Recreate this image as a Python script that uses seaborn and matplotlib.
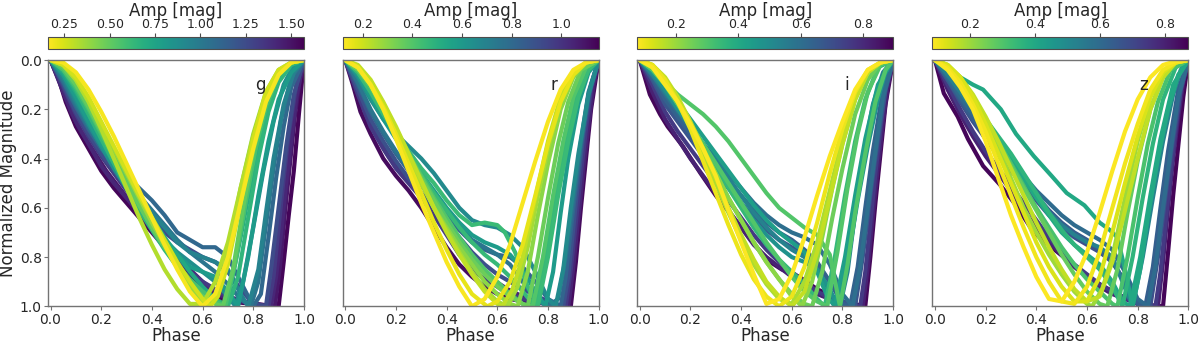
import numpy as np
import pandas as pd
import seaborn as sns
import matplotlib.pyplot as plt
from matplotlib import cm
from matplotlib.colors import Normalize

# ---- data: amplitude, phase points, normalized magnitude ----
G_AMP = [1.55, 1.48, 1.42, 1.33, 1.25, 1.10, 1.02, 0.95, 0.88, 0.80, 0.72, 0.65, 0.57, 0.50, 0.38, 0.32, 0.26, 0.18]
G_PHASE = [
    [0, .03, .06, .1, .15, .2, .25, .3, .35, .4, .45, .5, .55, .6, .65, .7, .8, .9, .92, .94, .96, .98, 1],
    [0, .04, .08, .12, .17, .22, .28, .34, .4, .46, .52, .58, .64, .7, .8, .885, .905, .925, .945, .965, .985, 1],
    [0, .05, .1, .15, .2, .25, .3, .35, .4, .45, .5, .55, .6, .65, .7, .8, .87, .89, .91, .93, .95, .97, 1],
    [0, .05, .1, .15, .2, .25, .3, .35, .4, .45, .5, .55, .6, .65, .7, .8, .86, .88, .9, .92, .94, .97, 1],
    [0, .05, .1, .15, .2, .25, .3, .35, .4, .45, .5, .55, .6, .65, .7, .75, .8, .85, .87, .9, .93, .96, 1],
    [0, .05, .1, .15, .2, .25, .3, .35, .4, .45, .5, .55, .6, .65, .7, .75, .8, .83, .86, .89, .92, .95, 1],
    [0, .05, .1, .15, .2, .25, .3, .35, .4, .45, .5, .55, .6, .65, .7, .75, .79, .82, .85, .88, .91, .95, 1],
    [0, .05, .1, .15, .2, .25, .3, .35, .4, .45, .5, .55, .6, .65, .7, .75, .78, .82, .85, .88, .92, .96, 1],
    [0, .05, .1, .15, .2, .25, .3, .35, .4, .45, .5, .55, .6, .65, .7, .73, .76, .8, .84, .88, .92, .96, 1],
    [0, .05, .1, .15, .2, .25, .3, .35, .4, .45, .5, .55, .6, .65, .7, .74, .78, .82, .86, .9, .95, 1],
    [0, .05, .1, .15, .2, .25, .3, .35, .4, .45, .5, .55, .6, .65, .68, .71, .75, .79, .83, .87, .91, .95, 1],
    [0, .05, .1, .15, .2, .25, .3, .35, .4, .45, .5, .55, .6, .65, .7, .74, .78, .82, .86, .9, .95, 1],
    [0, .05, .1, .15, .2, .25, .3, .35, .4, .45, .5, .55, .6, .65, .69, .73, .77, .81, .85, .9, .95, 1],
    [0, .05, .1, .15, .2, .25, .3, .35, .4, .45, .5, .55, .6, .65, .68, .72, .76, .8, .85, .9, .95, 1],
    [0, .05, .1, .15, .2, .25, .3, .35, .4, .45, .5, .55, .6, .63, .67, .7, .75, .8, .85, .9, .95, 1],
    [0, .05, .1, .15, .2, .25, .3, .35, .4, .45, .5, .55, .6, .65, .7, .75, .8, .85, .9, .95, 1],
    [0, .05, .1, .15, .2, .25, .3, .35, .4, .45, .5, .55, .6, .63, .66, .7, .75, .8, .85, .9, .95, 1],
    [0, .05, .1, .15, .2, .25, .3, .35, .4, .45, .5, .55, .6, .65, .7, .75, .8, .85, .9, .95, 1],
]
G_MAG = [
    [0, .07, .17, .27, .36, .45, .52, .58, .64, .70, .76, .82, .87, .92, .96, .98, .99, 1, .82, .63, .45, .22, 0],
    [0, .10, .21, .29, .37, .45, .53, .61, .69, .77, .84, .90, .94, .97, .99, 1, .84, .62, .42, .22, .07, 0],
    [0, .13, .25, .34, .43, .50, .56, .62, .68, .74, .80, .85, .90, .94, .97, .99, 1, .88, .70, .50, .32, .15, 0],
    [0, .11, .22, .31, .39, .46, .53, .60, .67, .74, .80, .86, .90, .93, .96, .99, 1, .88, .68, .48, .30, .10, 0],
    [0, .10, .21, .30, .38, .45, .52, .58, .64, .70, .74, .77, .80, .82, .86, .93, .99, 1, .85, .60, .35, .14, 0],
    [0, .09, .19, .28, .36, .42, .47, .52, .57, .63, .70, .73, .76, .76, .80, .90, 1, .95, .72, .48, .27, .11, 0],
    [0, .08, .18, .27, .35, .42, .49, .55, .61, .67, .73, .78, .82, .86, .91, .97, 1, .90, .67, .44, .24, .07, 0],
    [0, .07, .17, .26, .35, .43, .50, .56, .62, .68, .74, .78, .80, .82, .85, .95, 1, .85, .62, .40, .18, .05, 0],
    [0, .06, .16, .26, .35, .44, .52, .60, .67, .73, .78, .82, .86, .90, .96, 1, .90, .68, .45, .25, .10, .02, 0],
    [0, .06, .15, .25, .34, .42, .50, .58, .66, .73, .79, .84, .86, .88, .94, 1, .80, .55, .33, .16, .05, 0],
    [0, .05, .13, .22, .31, .40, .48, .56, .64, .72, .79, .86, .92, .97, 1, .92, .72, .50, .30, .15, .05, .01, 0],
    [0, .04, .12, .22, .32, .42, .52, .61, .69, .77, .84, .90, .94, .97, 1, .88, .64, .40, .21, .09, .02, 0],
    [0, .04, .11, .20, .30, .40, .50, .59, .68, .76, .83, .89, .94, .98, 1, .82, .58, .36, .19, .06, .01, 0],
    [0, .03, .10, .19, .29, .39, .49, .59, .68, .76, .84, .91, .96, .99, 1, .85, .60, .37, .17, .06, .01, 0],
    [0, .02, .08, .16, .26, .36, .46, .56, .66, .75, .84, .92, .98, 1, .90, .78, .52, .30, .13, .04, .01, 0],
    [0, .02, .08, .17, .28, .40, .52, .64, .75, .85, .93, .99, .99, .90, .74, .52, .31, .14, .05, .01, 0],
    [0, .02, .07, .15, .25, .35, .45, .55, .64, .73, .82, .90, .97, 1, .96, .83, .58, .32, .13, .04, .01, 0],
    [0, .01, .05, .12, .21, .31, .42, .53, .64, .75, .85, .94, 1, .95, .80, .58, .36, .17, .06, .01, 0],
]

R_AMP = [1.12, 1.05, 0.98, 0.90, 0.82, 0.75, 0.66, 0.59, 0.45, 0.46, 0.40, 0.35, 0.30, 0.26, 0.22, 0.16, 0.13]
R_PHASE = [
    [0, .03, .06, .1, .15, .2, .25, .3, .35, .4, .45, .5, .55, .6, .65, .7, .8, .89, .91, .93, .95, .97, 1],
    [0, .04, .08, .12, .17, .22, .28, .34, .4, .46, .52, .58, .64, .7, .8, .88, .9, .92, .94, .96, .98, 1],
    [0, .05, .1, .15, .2, .25, .3, .35, .4, .45, .5, .55, .6, .65, .7, .8, .87, .89, .91, .93, .95, .97, 1],
    [0, .05, .1, .15, .2, .25, .3, .35, .4, .45, .5, .55, .6, .65, .7, .8, .86, .88, .9, .92, .94, .97, 1],
    [0, .05, .1, .15, .2, .25, .3, .35, .4, .45, .5, .55, .6, .65, .7, .75, .8, .85, .87, .9, .93, .96, 1],
    [0, .05, .1, .15, .2, .25, .3, .35, .4, .45, .5, .55, .6, .65, .7, .75, .8, .84, .87, .9, .93, .96, 1],
    [0, .05, .1, .15, .2, .25, .3, .35, .4, .45, .5, .55, .6, .65, .7, .75, .8, .83, .86, .89, .92, .96, 1],
    [0, .05, .1, .15, .2, .25, .3, .35, .4, .45, .5, .55, .6, .65, .7, .75, .79, .82, .85, .88, .92, .96, 1],
    [0, .05, .1, .15, .2, .25, .3, .35, .4, .45, .5, .55, .6, .63, .67, .72, .76, .8, .84, .88, .92, .96, 1],
    [0, .05, .1, .15, .2, .25, .3, .35, .4, .45, .5, .55, .6, .65, .7, .75, .78, .82, .86, .9, .94, 1],
    [0, .05, .1, .15, .2, .25, .3, .35, .4, .45, .5, .55, .6, .65, .7, .74, .78, .82, .86, .9, .95, 1],
    [0, .05, .1, .15, .2, .25, .3, .35, .4, .45, .5, .55, .6, .65, .7, .72, .76, .8, .84, .88, .93, 1],
    [0, .05, .1, .15, .2, .25, .3, .35, .4, .45, .5, .55, .6, .65, .68, .72, .76, .8, .85, .9, .95, 1],
    [0, .05, .1, .15, .2, .25, .3, .35, .4, .45, .5, .55, .6, .64, .68, .72, .76, .8, .85, .9, .95, 1],
    [0, .05, .1, .15, .2, .25, .3, .35, .4, .45, .5, .55, .6, .62, .66, .7, .75, .8, .85, .9, .95, 1],
    [0, .05, .1, .15, .2, .25, .3, .35, .4, .45, .5, .56, .6, .65, .7, .75, .8, .85, .9, .95, 1],
    [0, .05, .1, .15, .2, .25, .3, .35, .4, .45, .5, .55, .6, .65, .7, .75, .8, .85, .9, .95, 1],
]
R_MAG = [
    [0, .10, .21, .30, .40, .47, .53, .60, .68, .76, .83, .88, .92, .95, .97, .98, .99, 1, .82, .60, .40, .20, 0],
    [0, .11, .22, .30, .39, .46, .53, .61, .69, .77, .84, .89, .93, .96, .99, 1, .84, .64, .44, .26, .10, 0],
    [0, .14, .27, .36, .44, .50, .56, .63, .71, .79, .85, .89, .92, .95, .97, .99, 1, .85, .66, .46, .28, .12, 0],
    [0, .12, .24, .33, .41, .48, .54, .60, .66, .72, .78, .83, .87, .90, .93, .98, 1, .88, .68, .48, .30, .10, 0],
    [0, .10, .21, .30, .38, .45, .51, .57, .63, .69, .74, .77, .79, .80, .84, .90, .97, 1, .88, .60, .35, .14, 0],
    [0, .09, .20, .29, .37, .44, .50, .56, .62, .68, .73, .76, .79, .83, .90, .97, 1, .97, .80, .56, .33, .13, 0],
    [0, .07, .16, .24, .30, .35, .40, .46, .53, .60, .65, .67, .68, .71, .76, .86, .97, 1, .85, .60, .38, .14, 0],
    [0, .06, .15, .24, .32, .39, .46, .53, .60, .66, .71, .74, .76, .79, .85, .94, 1, .86, .62, .40, .18, .05, 0],
    [0, .05, .13, .22, .30, .37, .44, .50, .57, .63, .67, .66, .67, .70, .78, .92, 1, .80, .55, .33, .15, .04, 0],
    [0, .05, .12, .21, .30, .38, .46, .54, .61, .68, .74, .79, .83, .88, .94, 1, .86, .60, .37, .18, .05, 0],
    [0, .04, .11, .20, .29, .38, .47, .56, .64, .72, .79, .85, .90, .95, .99, 1, .80, .55, .33, .15, .03, 0],
    [0, .04, .10, .19, .28, .38, .48, .57, .66, .74, .81, .87, .92, .96, .99, 1, .80, .56, .34, .17, .04, 0],
    [0, .03, .10, .19, .29, .40, .50, .60, .68, .76, .83, .90, .95, .99, 1, .86, .63, .42, .20, .07, .01, 0],
    [0, .03, .09, .18, .28, .39, .50, .60, .69, .78, .86, .93, .98, 1, .92, .76, .55, .36, .17, .06, .01, 0],
    [0, .02, .08, .17, .27, .38, .49, .60, .70, .79, .87, .94, .99, 1, .93, .80, .56, .33, .15, .05, .01, 0],
    [0, .03, .10, .19, .30, .42, .54, .66, .77, .87, .95, 1, .98, .90, .75, .55, .34, .17, .06, .01, 0],
    [0, .03, .10, .20, .32, .45, .58, .70, .82, .92, 1, .97, .88, .75, .58, .41, .25, .12, .04, .01, 0],
]

I_AMP = [0.88, 0.82, 0.76, 0.68, 0.64, 0.60, 0.54, 0.48, 0.44, 0.30, 0.35, 0.30, 0.26, 0.22, 0.18, 0.15, 0.10, 0.08]
I_PHASE = [
    [0, .04, .08, .11, .17, .24, .3, .37, .44, .5, .56, .63, .7, .8, .89, .91, .93, .95, .97, 1],
    [0, .05, .1, .15, .2, .25, .3, .35, .4, .45, .5, .55, .6, .65, .7, .8, .88, .9, .92, .94, .96, .98, 1],
    [0, .05, .1, .15, .2, .25, .3, .35, .4, .45, .5, .55, .6, .65, .7, .8, .87, .89, .91, .93, .95, .97, 1],
    [0, .05, .1, .15, .2, .25, .3, .35, .4, .45, .5, .55, .6, .65, .7, .75, .8, .85, .88, .91, .94, .97, 1],
    [0, .05, .1, .15, .2, .25, .3, .35, .4, .45, .5, .55, .6, .65, .7, .75, .8, .83, .86, .89, .92, .96, 1],
    [0, .05, .1, .15, .2, .25, .3, .35, .4, .45, .5, .55, .6, .65, .7, .75, .8, .84, .87, .9, .93, .96, 1],
    [0, .05, .1, .15, .2, .25, .3, .35, .4, .45, .5, .55, .6, .65, .7, .75, .79, .82, .85, .88, .92, .96, 1],
    [0, .05, .1, .15, .2, .25, .3, .35, .4, .45, .5, .55, .6, .65, .7, .75, .78, .82, .86, .9, .94, .97, 1],
    [0, .05, .1, .15, .2, .25, .3, .35, .4, .45, .5, .55, .6, .65, .7, .74, .77, .81, .85, .89, .94, 1],
    [0, .05, .1, .15, .2, .25, .3, .35, .4, .45, .5, .55, .6, .65, .7, .75, .79, .82, .85, .89, .93, .97, 1],
    [0, .05, .1, .15, .2, .25, .3, .35, .4, .45, .5, .55, .6, .65, .7, .73, .77, .81, .85, .89, .94, 1],
    [0, .05, .1, .15, .2, .25, .3, .35, .4, .45, .5, .55, .6, .65, .7, .74, .78, .82, .86, .9, .95, 1],
    [0, .05, .1, .15, .2, .25, .3, .35, .4, .45, .5, .55, .6, .65, .68, .72, .76, .8, .85, .9, .95, 1],
    [0, .05, .1, .15, .2, .25, .3, .35, .4, .45, .5, .55, .6, .64, .68, .72, .76, .8, .85, .9, .95, 1],
    [0, .05, .1, .15, .2, .25, .3, .35, .4, .45, .5, .55, .6, .65, .7, .75, .8, .85, .9, .95, 1],
    [0, .05, .1, .15, .2, .25, .3, .35, .4, .45, .5, .55, .6, .65, .7, .75, .8, .85, .9, .95, 1],
    [0, .05, .1, .15, .2, .25, .3, .35, .4, .45, .5, .55, .6, .65, .7, .75, .8, .85, .9, .95, 1],
    [0, .05, .1, .15, .2, .25, .3, .35, .4, .45, .5, .55, .6, .65, .7, .75, .8, .85, .9, .95, 1],
]
I_MAG = [
    [0, .14, .22, .27, .35, .46, .55, .64, .73, .81, .85, .88, .93, .98, 1, .80, .58, .38, .18, 0],
    [0, .13, .24, .32, .40, .47, .54, .61, .68, .75, .80, .84, .88, .92, .95, .99, 1, .84, .63, .43, .25, .10, 0],
    [0, .10, .21, .29, .36, .43, .50, .57, .64, .71, .77, .82, .86, .90, .94, .99, 1, .86, .66, .46, .28, .12, 0],
    [0, .08, .18, .25, .32, .39, .46, .52, .58, .64, .69, .73, .76, .79, .83, .90, .98, 1, .80, .55, .32, .12, 0],
    [0, .07, .16, .23, .30, .37, .43, .49, .55, .61, .66, .70, .73, .77, .82, .90, .99, 1, .84, .60, .37, .12, 0],
    [0, .06, .14, .21, .28, .34, .40, .46, .52, .58, .63, .67, .70, .72, .75, .83, .95, 1, .84, .60, .37, .15, 0],
    [0, .06, .13, .20, .27, .34, .41, .48, .55, .62, .68, .73, .77, .80, .85, .94, 1, .86, .62, .40, .18, .05, 0],
    [0, .05, .12, .20, .27, .34, .42, .50, .58, .65, .71, .76, .80, .82, .85, .93, 1, .82, .57, .35, .16, .05, 0],
    [0, .04, .10, .17, .24, .31, .38, .45, .52, .59, .65, .70, .74, .78, .86, .96, 1, .80, .55, .32, .10, 0],
    [0, .03, .09, .14, .18, .22, .27, .33, .40, .47, .54, .60, .64, .68, .71, .79, 1, .83, .62, .38, .17, .04, 0],
    [0, .04, .10, .18, .26, .35, .44, .52, .60, .68, .75, .81, .86, .91, .97, 1, .80, .55, .33, .16, .03, 0],
    [0, .04, .10, .18, .26, .34, .42, .50, .58, .66, .74, .81, .88, .94, .98, 1, .78, .52, .30, .13, .02, 0],
    [0, .03, .09, .17, .26, .36, .46, .56, .65, .74, .82, .89, .95, .99, 1, .86, .64, .44, .22, .08, .01, 0],
    [0, .03, .09, .17, .26, .36, .46, .56, .65, .74, .82, .89, .96, 1, .90, .72, .52, .34, .16, .05, .01, 0],
    [0, .02, .08, .16, .26, .38, .50, .62, .73, .83, .91, .97, .99, .90, .74, .53, .32, .15, .05, .01, 0],
    [0, .02, .07, .15, .25, .36, .48, .60, .71, .81, .90, .96, 1, .94, .78, .56, .34, .16, .05, .01, 0],
    [0, .02, .08, .17, .28, .41, .54, .67, .79, .89, .96, 1, .96, .84, .66, .46, .28, .13, .04, .01, 0],
    [0, .03, .10, .17, .26, .36, .47, .61, .74, .87, .99, .97, .87, .72, .55, .39, .25, .12, .04, .01, 0],
]

Z_AMP = [0.86, 0.80, 0.74, 0.68, 0.64, 0.60, 0.53, 0.40, 0.40, 0.36, 0.31, 0.27, 0.20, 0.16, 0.13, 0.10, 0.09]
Z_PHASE = [
    [0, .035, .09, .13, .19, .26, .32, .39, .46, .52, .58, .65, .72, .8, .9, .92, .94, .96, .98, 1],
    [0, .05, .1, .15, .2, .25, .3, .35, .4, .45, .5, .55, .6, .65, .7, .8, .88, .9, .92, .94, .96, .98, 1],
    [0, .05, .1, .15, .2, .25, .3, .35, .4, .45, .5, .55, .6, .65, .7, .8, .87, .89, .91, .93, .95, .97, 1],
    [0, .05, .1, .15, .2, .25, .3, .35, .4, .45, .5, .55, .6, .65, .7, .75, .8, .85, .88, .91, .94, .97, 1],
    [0, .05, .1, .15, .2, .25, .3, .35, .4, .45, .5, .55, .6, .65, .7, .75, .8, .83, .86, .89, .92, .96, 1],
    [0, .05, .1, .15, .2, .25, .3, .35, .4, .45, .5, .55, .6, .65, .7, .75, .8, .84, .87, .9, .93, .96, 1],
    [0, .05, .1, .15, .2, .25, .3, .35, .4, .45, .5, .55, .6, .65, .7, .74, .78, .82, .86, .9, .94, .97, 1],
    [0, .05, .1, .15, .19, .26, .32, .39, .46, .52, .59, .65, .69, .72, .75, .78, .81, .84, .88, .92, .96, 1],
    [0, .05, .1, .15, .2, .25, .3, .35, .4, .45, .5, .55, .6, .65, .7, .74, .77, .81, .85, .89, .94, 1],
    [0, .05, .1, .15, .2, .25, .3, .35, .4, .45, .5, .55, .6, .65, .7, .74, .78, .82, .86, .9, .95, 1],
    [0, .05, .1, .15, .2, .25, .3, .35, .4, .45, .5, .55, .6, .65, .7, .72, .76, .8, .84, .88, .93, 1],
    [0, .05, .1, .15, .2, .25, .3, .35, .4, .45, .5, .55, .6, .65, .68, .72, .76, .8, .85, .9, .95, 1],
    [0, .05, .1, .15, .2, .25, .3, .35, .4, .45, .5, .55, .6, .62, .66, .7, .75, .8, .85, .9, .95, 1],
    [0, .05, .1, .15, .2, .25, .3, .35, .4, .45, .5, .55, .6, .65, .7, .75, .8, .85, .9, .95, 1],
    [0, .05, .1, .15, .2, .25, .3, .35, .4, .45, .5, .55, .6, .65, .7, .75, .8, .85, .9, .95, 1],
    [0, .05, .1, .15, .2, .25, .3, .35, .4, .45, .5, .55, .6, .65, .7, .75, .8, .85, .9, .95, 1],
    [0, .05, .1, .15, .2, .25, .3, .35, .4, .45, .5, .55, .6, .65, .7, .75, .8, .85, .9, .95, 1],
]
Z_MAG = [
    [0, .135, .23, .32, .43, .51, .59, .70, .76, .81, .86, .91, .95, .99, 1, .78, .55, .35, .15, 0],
    [0, .12, .22, .31, .39, .46, .53, .61, .68, .74, .79, .84, .88, .92, .95, .99, 1, .82, .60, .40, .23, .09, 0],
    [0, .10, .20, .29, .37, .44, .51, .58, .65, .72, .78, .83, .87, .91, .94, .99, 1, .86, .66, .46, .28, .12, 0],
    [0, .08, .17, .25, .32, .39, .45, .51, .57, .63, .68, .72, .75, .78, .82, .90, .98, 1, .80, .55, .32, .12, 0],
    [0, .08, .16, .24, .31, .37, .43, .49, .55, .61, .66, .70, .73, .77, .82, .90, .99, 1, .84, .60, .37, .12, 0],
    [0, .07, .15, .22, .29, .35, .41, .47, .53, .58, .63, .67, .70, .73, .77, .86, .97, 1, .84, .60, .37, .15, 0],
    [0, .06, .13, .20, .27, .34, .41, .48, .55, .62, .67, .71, .74, .76, .80, .90, 1, .80, .56, .33, .14, .04, 0],
    [0, .03, .07, .10, .12, .20, .30, .39, .47, .54, .59, .66, .69, .72, .85, 1, .85, .64, .40, .20, .06, 0],
    [0, .04, .10, .17, .24, .32, .40, .48, .56, .63, .70, .75, .79, .83, .90, .98, 1, .80, .55, .32, .10, 0],
    [0, .04, .10, .17, .24, .31, .38, .46, .54, .62, .69, .75, .80, .85, .92, 1, .80, .56, .34, .16, .03, 0],
    [0, .03, .09, .16, .24, .33, .42, .51, .60, .68, .76, .83, .89, .94, .99, 1, .80, .56, .34, .17, .04, 0],
    [0, .03, .09, .16, .25, .34, .43, .52, .61, .70, .79, .87, .94, .99, 1, .85, .62, .41, .20, .07, .01, 0],
    [0, .02, .07, .15, .25, .36, .48, .60, .70, .79, .87, .94, .99, 1, .93, .80, .56, .33, .15, .05, .01, 0],
    [0, .02, .07, .14, .23, .33, .44, .55, .66, .76, .85, .93, .98, .96, .82, .61, .40, .20, .07, .01, 0],
    [0, .02, .07, .15, .26, .38, .50, .62, .74, .84, .92, .98, .98, .88, .70, .50, .31, .15, .05, .01, 0],
    [0, .03, .09, .18, .29, .42, .55, .68, .80, .90, .98, .99, .92, .78, .60, .42, .26, .12, .04, .01, 0],
    [0, .04, .11, .20, .33, .48, .63, .76, .88, .97, .98, .90, .78, .62, .45, .29, .16, .07, .02, .005, 0],
]

BANDS = ["g", "r", "i", "z"]
AMP_RANGE = [(0.16, 1.57), (0.12, 1.15), (0.076, 0.896), (0.084, 0.872)]
CBAR_TICKS = [
    [0.25, 0.50, 0.75, 1.00, 1.25, 1.50],
    [0.2, 0.4, 0.6, 0.8, 1.0],
    [0.2, 0.4, 0.6, 0.8],
    [0.2, 0.4, 0.6, 0.8],
]
CBAR_FMT = ["%.2f", "%.1f", "%.1f", "%.1f"]

panels = [(G_AMP, G_PHASE, G_MAG), (R_AMP, R_PHASE, R_MAG),
          (I_AMP, I_PHASE, I_MAG), (Z_AMP, Z_PHASE, Z_MAG)]

sns.set_style("ticks")
plt.rcParams["font.family"] = ["DejaVu Sans"]
cmap = plt.get_cmap("viridis_r")

fig = plt.figure(figsize=(12, 3.45), dpi=100)
left = [0.040, 0.2856, 0.5310, 0.7770]
w = 0.2133

for k, (amps, phases, mags) in enumerate(panels):
    ax = fig.add_axes([left[k], 0.112, w, 0.714])
    norm = Normalize(*AMP_RANGE[k])
    rows = []
    for j, (a, p, m) in enumerate(zip(amps, phases, mags)):
        rows.append(pd.DataFrame({"phase": p, "mag": m, "amp": a, "id": j}))
    df = pd.concat(rows)
    # big amplitude first, low amplitude (yellow) drawn on top
    for j in np.argsort(amps, kind="stable")[::-1]:
        d = df[df["id"] == j]
        sns.lineplot(data=d, x="phase", y="mag", ax=ax, sort=False, estimator=None,
                     color=cmap(norm(amps[j])), lw=3.0, solid_capstyle="round",
                     solid_joinstyle="round")
    ax.set_xlim(-0.01, 1.0)
    ax.set_ylim(1.0, 0.0)
    ax.set_xticks([0, 0.2, 0.4, 0.6, 0.8, 1.0])
    ax.set_yticks([0, 0.2, 0.4, 0.6, 0.8, 1.0])
    ax.set_xlabel("Phase", fontsize=12, labelpad=0)
    ax.tick_params(labelsize=10, color="0.45", length=3, pad=1.5)
    for s in ax.spines.values():
        s.set_color("0.45")
        s.set_linewidth(1.0)
    if k == 0:
        ax.set_ylabel("Normalized Magnitude", fontsize=12, labelpad=2)
    else:
        ax.set_ylabel("")
        ax.tick_params(left=False, labelleft=False)
    ax.text(0.81, 0.88, BANDS[k], transform=ax.transAxes, fontsize=12)

    cax = fig.add_axes([left[k], 0.858, w, 0.035])
    sm = cm.ScalarMappable(norm=norm, cmap=cmap)
    cb = fig.colorbar(sm, cax=cax, orientation="horizontal", ticks=CBAR_TICKS[k], format=CBAR_FMT[k])
    cax.xaxis.set_ticks_position("top")
    cax.xaxis.set_label_position("top")
    cb.set_label("Amp [mag]", fontsize=12, labelpad=2)
    cax.tick_params(labelsize=9, color="0.3", length=3, pad=1)
    cb.outline.set_edgecolor("0.3")

fig.savefig("out.png", dpi=100)
